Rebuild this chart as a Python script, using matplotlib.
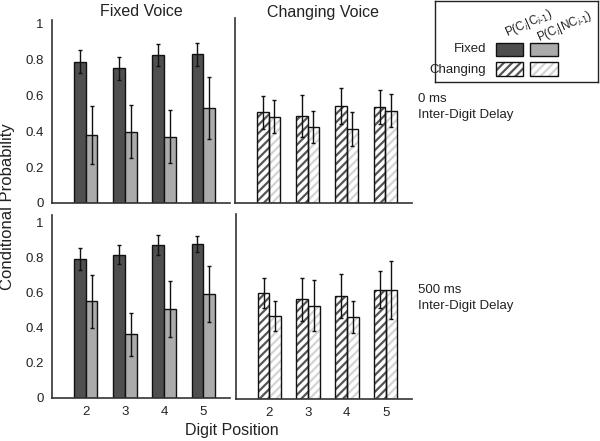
import numpy as np
import matplotlib
matplotlib.use("Agg")
import matplotlib.pyplot as plt
from matplotlib.patches import Rectangle

plt.rcParams['font.family'] = ['Liberation Sans', 'DejaVu Sans']
plt.rcParams['hatch.linewidth'] = 1.6

digits = [2, 3, 4, 5]
tick_labels = ['2', '3', '4', '5']

# 0 ms inter-digit delay
fixed0_c = [0.785, 0.748, 0.822, 0.826]
fixed0_c_err = [0.065, 0.062, 0.062, 0.062]
fixed0_nc = [0.378, 0.396, 0.368, 0.53]
fixed0_nc_err = [0.16, 0.148, 0.148, 0.172]
chg0_c = [0.504, 0.482, 0.539, 0.535]
chg0_c_err = [0.092, 0.118, 0.1, 0.095]
chg0_nc = [0.48, 0.422, 0.41, 0.512]
chg0_nc_err = [0.092, 0.088, 0.095, 0.092]

# 500 ms inter-digit delay
fixed500_c = [0.79, 0.815, 0.87, 0.875]
fixed500_c_err = [0.062, 0.052, 0.058, 0.048]
fixed500_nc = [0.55, 0.362, 0.505, 0.59]
fixed500_nc_err = [0.15, 0.122, 0.16, 0.16]
chg500_c = [0.6, 0.565, 0.585, 0.62]
chg500_c_err = [0.085, 0.12, 0.125, 0.105]
chg500_nc = [0.47, 0.53, 0.465, 0.62]
chg500_nc_err = [0.085, 0.145, 0.093, 0.165]

dark = '#4f4f4f'
light = '#ababab'
hatch_dark = '#555555'
hatch_light = '#d4d4d4'
w = 0.3

W, H = 600, 441
fig = plt.figure(figsize=(6, 4.41), dpi=100)

def px(x, y):
    return x / W, 1 - y / H

panels = [
    # rect in pixels (left, top, right, bottom), ylim top, data, hatched?
    ((52, 20, 230, 203), 1.017, fixed0_c, fixed0_c_err, fixed0_nc, fixed0_nc_err, False),
    ((235, 18, 412, 203), 1.028, chg0_c, chg0_c_err, chg0_nc, chg0_nc_err, True),
    ((52, 215, 230, 398), 1.04, fixed500_c, fixed500_c_err, fixed500_nc, fixed500_nc_err, False),
    ((236, 214, 412, 399), 1.05, chg500_c, chg500_c_err, chg500_nc, chg500_nc_err, True),
]

x = np.array(digits, dtype=float)
for i, (r, ytop, c, ce, nc, nce, hatched) in enumerate(panels):
    l, t, rr, b = r
    ax = fig.add_axes([l / W, 1 - b / H, (rr - l) / W, (b - t) / H])
    if hatched:
        ax.bar(x - w / 2, c, w, color='white', edgecolor=hatch_dark, hatch='////', linewidth=0)
        ax.bar(x + w / 2, nc, w, color='white', edgecolor=hatch_light, hatch='////', linewidth=0)
        ax.bar(x - w / 2, c, w, fill=False, edgecolor='#111111', linewidth=1.0)
        ax.bar(x + w / 2, nc, w, fill=False, edgecolor='#111111', linewidth=1.0)
    else:
        ax.bar(x - w / 2, c, w, color=dark, edgecolor='#111111', linewidth=1.0)
        ax.bar(x + w / 2, nc, w, color=light, edgecolor='#111111', linewidth=1.0)
    ax.errorbar(x - w / 2, c, yerr=ce, fmt='none', ecolor='#111111', elinewidth=1.0, capsize=1.5, capthick=1.0)
    ax.errorbar(x + w / 2, nc, yerr=nce, fmt='none', ecolor='#111111', elinewidth=1.0, capsize=1.5, capthick=1.0)
    ax.set_xlim(1.14, 5.68)
    ax.set_ylim(0, ytop)
    for s in ['top', 'right']:
        ax.spines[s].set_visible(False)
    for s in ['left', 'bottom']:
        ax.spines[s].set_linewidth(1.2)
        ax.spines[s].set_color('#333333')
    ax.tick_params(length=0, labelsize=9.5, colors='#222222', pad=6)
    ax.set_yticks([0, 0.2, 0.4, 0.6, 0.8, 1.0])
    ax.set_yticklabels(['0', '0.2', '0.4', '0.6', '0.8', '1'])
    if hatched:
        ax.set_yticklabels([])
    ax.set_xticks(x)
    if i < 2:
        ax.set_xticklabels([])
    else:
        ax.set_xticklabels(tick_labels)

fig.text(*px(141, 12), 'Fixed Voice', ha='center', va='center', fontsize=11.5, color='#222222')
fig.text(*px(323, 12), 'Changing Voice', ha='center', va='center', fontsize=11.5, color='#222222')
fig.text(*px(8, 207), 'Conditional Probability', ha='center', va='center', rotation=90, fontsize=12, color='#222222')
fig.text(*px(232, 430), 'Digit Position', ha='center', va='center', fontsize=11.5, color='#222222')

fig.text(*px(418, 99), '0 ms', ha='left', va='center', fontsize=9.5, color='#222222')
fig.text(*px(418, 115), 'Inter-Digit Delay', ha='left', va='center', fontsize=9.5, color='#222222')
fig.text(*px(418, 290), '500 ms', ha='left', va='center', fontsize=9.5, color='#222222')
fig.text(*px(418, 306), 'Inter-Digit Delay', ha='left', va='center', fontsize=9.5, color='#222222')

# legend box drawn by hand
lg = fig.add_axes([435 / W, 1 - 82 / H, 163 / W, 81 / H])
lg.set_xlim(0, 163)
lg.set_ylim(81, 0)
lg.set_xticks([])
lg.set_yticks([])
for s in lg.spines.values():
    s.set_linewidth(1.0)
    s.set_color('#222222')
lg.add_patch(Rectangle((61, 42), 27, 13, facecolor=dark, edgecolor='#111111', lw=1.0))
lg.add_patch(Rectangle((95, 42), 28, 13, facecolor=light, edgecolor='#111111', lw=1.0))
lg.add_patch(Rectangle((61, 61), 27, 14, facecolor='white', edgecolor=hatch_dark, hatch='////', lw=0))
lg.add_patch(Rectangle((61, 61), 27, 14, fill=False, edgecolor='#111111', lw=1.0))
lg.add_patch(Rectangle((95, 61), 28, 14, facecolor='white', edgecolor=hatch_light, hatch='////', lw=0))
lg.add_patch(Rectangle((95, 61), 28, 14, fill=False, edgecolor='#111111', lw=1.0))
lg.text(51, 48, 'Fixed', ha='right', va='center', fontsize=9.5, color='#222222')
lg.text(51, 69, 'Changing', ha='right', va='center', fontsize=9.5, color='#222222')
lg.text(72, 35, r'P(C$_i$|C$_{i\text{-}1}$)', ha='left', va='baseline', rotation=24,
        rotation_mode='anchor', fontsize=8.5, color='#222222')
lg.text(104, 40, r'P(C$_i$|NC$_{i\text{-}1}$)', ha='left', va='baseline', rotation=24,
        rotation_mode='anchor', fontsize=8.5, color='#222222')

fig.savefig('out.png', dpi=100)
